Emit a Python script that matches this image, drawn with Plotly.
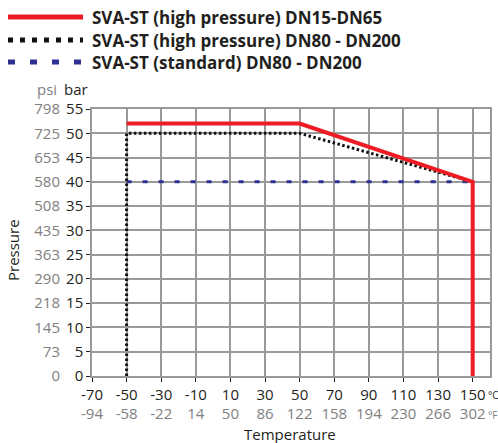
import plotly.graph_objects as go

# ---- data ----
temp_c_ticks = [-70, -50, -30, -10, 10, 30, 50, 70, 90, 110, 130, 150]
temp_f_ticks = ["-94", "-58", "-22", "14", "50", "86", "122", "158", "194", "230", "266", "302"]
bar_ticks = [0, 5, 10, 15, 20, 25, 30, 35, 40, 45, 50, 55]
psi_ticks = ["0", "73", "145", "218", "290", "363", "435", "508", "580", "653", "725", "798"]

hp_small_name = "SVA-ST (high pressure) DN15-DN65"
hp_small_t = [-50, 50, 150, 150]
hp_small_p = [52, 52, 40, 0]

hp_large_name = "SVA-ST (high pressure) DN80 - DN200"
hp_large_t = [-50, -50, 50, 150]
hp_large_p = [0, 50, 50, 40]

std_name = "SVA-ST (standard) DN80 - DN200"
std_t = [-50, 150]
std_p = [40, 40]

RED = "#ed1c24"
BLACK = "#111111"
BLUE = "#2e3192"
TXT = "#231f20"
GRAY_TXT = "#808080"
GRID = "#9a9a9a"
FONT = "Open Sans"

W, H = 498, 443
ML, MR, MT, MB = 0, 8, 109, 67
plot_left_px = 92
pw = W - ML - MR
ph = H - MT - MB
xdom0 = plot_left_px / pw

fig = go.Figure()
fig.add_trace(go.Scatter(x=std_t, y=std_p, mode="lines", name=std_name,
                         line=dict(color=BLUE, width=3, dash="5px,11px"), cliponaxis=False))
fig.add_trace(go.Scatter(x=hp_large_t, y=hp_large_p, mode="lines", name=hp_large_name,
                         line=dict(color=BLACK, width=3, dash="2.5px,2.5px"), cliponaxis=False))
fig.add_trace(go.Scatter(x=hp_small_t, y=hp_small_p, mode="lines", name=hp_small_name,
                         line=dict(color=RED, width=4), cliponaxis=False))
# invisible trace for secondary (psi) axis
fig.add_trace(go.Scatter(x=[None], y=[None], yaxis="y2", showlegend=False, hoverinfo="skip"))

ticktext_x = [f"{c}<br><span style='color:{GRAY_TXT}'>{f}</span>" for c, f in zip(temp_c_ticks, temp_f_ticks)]

fig.update_layout(
    width=W, height=H,
    margin=dict(l=ML, r=MR, t=MT, b=MB, autoexpand=False),
    paper_bgcolor="white", plot_bgcolor="white",
    showlegend=False,
    font=dict(family=FONT, size=15, color=TXT),
    xaxis=dict(domain=[xdom0, 1], range=[-70, 160], tickvals=temp_c_ticks, ticktext=ticktext_x,
               automargin=False,
               showgrid=True, gridcolor=GRID, gridwidth=1.5, zeroline=False,
               showline=True, linecolor=GRID, linewidth=1.5, mirror=True,
               ticks="outside", ticklen=4, tickcolor=TXT, tickfont=dict(size=15, color=TXT)),
    yaxis=dict(range=[0, 55], tickvals=bar_ticks, showgrid=True, gridcolor=GRID, gridwidth=1.5,
               automargin=False,
               zeroline=False, showline=True, linecolor=GRID, linewidth=1.5, mirror=True,
               ticks="outside", ticklen=4, tickcolor=TXT, tickfont=dict(size=15, color=TXT)),
    yaxis2=dict(overlaying="y", anchor="free", side="left", position=60 / pw,
                automargin=False,
                range=[0, 55], tickvals=bar_ticks, ticktext=psi_ticks, showgrid=False,
                zeroline=False, showline=False, ticks="", tickfont=dict(size=15, color=GRAY_TXT)),
)

# axis titles / units
ann = [
    dict(text="psi", x=47, y=89, color=GRAY_TXT),
    dict(text="bar", x=76, y=89, color=TXT),
    dict(text="Temperature", x=290, y=434, color=TXT),
]
for a in ann:
    fig.add_annotation(text=a["text"], x=a["x"] / pw, y=(H - MB - a["y"]) / ph,
                       xref="paper", yref="paper", showarrow=False, xanchor="center", yanchor="middle",
                       font=dict(size=15, color=a["color"]))
fig.add_annotation(text="Pressure", x=13 / pw, y=(H - MB - 250) / ph,
                   xref="paper", yref="paper", showarrow=False, textangle=-90,
                   xanchor="center", yanchor="middle", font=dict(size=15, color=TXT))
for txt, ypx, col in [("°C", 395, TXT), ("°F", 415, GRAY_TXT)]:
    fig.add_annotation(text=txt, x=485.5 / pw, y=(H - MB - ypx) / ph,
                       xref="paper", yref="paper", showarrow=False, xanchor="left", yanchor="middle",
                       font=dict(size=10, color=col))

# legend (drawn manually to match long samples)
legend_items = [
    (hp_small_name, 17, dict(color=RED, width=5)),
    (hp_large_name, 40, dict(color=BLACK, width=5, dash="5px,7px")),
    (std_name, 62, dict(color=BLUE, width=5, dash="7px,15px")),
]
for name, ypx, ln in legend_items:
    yy = (H - MB - ypx) / ph
    fig.add_shape(type="line", xref="paper", yref="paper", x0=8 / pw, x1=83 / pw, y0=yy, y1=yy, line=ln)
    fig.add_annotation(text=f"<b>{name}</b>", x=90 / pw, y=yy, xref="paper", yref="paper",
                       showarrow=False, xanchor="left", yanchor="middle",
                       font=dict(size=17, color=TXT))

fig.write_html("out.html", config={"displayModeBar": False},
               post_script="document.body.style.margin='0px';document.body.style.overflow='hidden';")
